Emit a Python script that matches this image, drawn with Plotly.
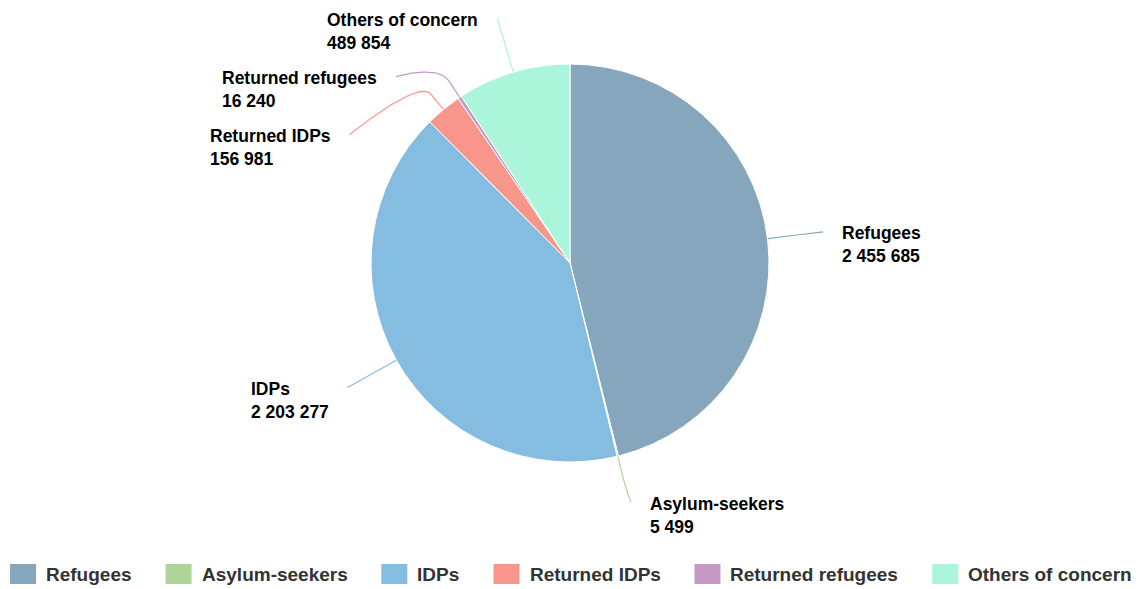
import math
import plotly.graph_objects as go

# ---- data ----
categories = ["Refugees", "Asylum-seekers", "IDPs", "Returned IDPs",
              "Returned refugees", "Others of concern"]
values = [2455685, 5499, 2203277, 156981, 16240, 489854]
colors = ["#85a6bd", "#afd498", "#85bde0", "#f9968c", "#c499c4", "#abf6db"]

# ---- layout parameters (screen pixel coordinates) ----
SCREEN_W, SCREEN_H = 1140, 589
PAGE_MARGIN = 8                     # browser body margin
W, H = SCREEN_W - PAGE_MARGIN, SCREEN_H - PAGE_MARGIN
CX, CY, R = 570, 263, 199
R_BREAK = R + 20      # connector break point radius
R_LABEL = 255         # label anchor radius
LABEL_GAP = 17        # gap between connector end and text
MIN_SPACING = 58      # min vertical spacing of labels on one side
LABEL_DY = 13         # text block centre below connector end
Y_MAX = CY + R + 40   # lowest connector end allowed
FONT = "Liberation Sans, Arial, Helvetica, sans-serif"
LABEL_SIZE = 17.5
LEG_SIZE = 19

def fmt(v):
    return f"{v:,}".replace(",", " ")

def pt(angle_deg, rad):
    a = math.radians(angle_deg)
    return CX + rad * math.sin(a), CY - rad * math.cos(a)

total = sum(values)
mids = []
acc = 0.0
for v in values:
    mids.append((acc + v / 2) / total * 360.0)
    acc += v

# ideal label y positions
info = []
for i, m in enumerate(mids):
    side = "right" if m < 180 else "left"
    _, y = pt(m, R_LABEL)
    info.append({"i": i, "mid": m, "side": side, "y": y})

# resolve overlaps top->bottom on each side
for side in ("left", "right"):
    items = sorted([d for d in info if d["side"] == side], key=lambda d: d["y"])
    prev = None
    for d in items:
        if prev is not None and d["y"] < prev + MIN_SPACING:
            d["y"] = prev + MIN_SPACING
        dy = d["y"] - CY
        d["dx"] = math.sqrt(max(R_LABEL ** 2 - dy ** 2, 0))
        d["y"] = min(d["y"], Y_MAX)
        prev = d["y"]

fig = go.Figure()

fig.add_trace(go.Pie(
    labels=categories, values=values, sort=False, direction="clockwise",
    rotation=0, textinfo="none", showlegend=False,
    marker=dict(colors=colors, line=dict(color="#ffffff", width=1)),
    domain=dict(x=[(CX - R - PAGE_MARGIN) / W, (CX + R - PAGE_MARGIN) / W],
                y=[1 - (CY + R - PAGE_MARGIN) / H, 1 - (CY - R - PAGE_MARGIN) / H]),
    hovertemplate="%{label}: %{value}<extra></extra>",
))

annotations = []
for d in info:
    i = d["i"]
    lx = CX + d["dx"] if d["side"] == "right" else CX - d["dx"]
    ly = d["y"]
    bx, by = pt(d["mid"], R_BREAK)
    tx, ty = pt(d["mid"], R)
    c2x, c2y = 2 * bx - tx, 2 * by - ty
    xs, ys = [], []
    n = 30
    for k in range(n + 1):
        t = k / n
        u = 1 - t
        x = u**3 * lx + 3 * u**2 * t * lx + 3 * u * t**2 * c2x + t**3 * bx
        y = u**3 * ly + 3 * u**2 * t * ly + 3 * u * t**2 * c2y + t**3 * by
        xs.append(x)
        ys.append(y)
    xs.append(tx)
    ys.append(ty)
    fig.add_trace(go.Scatter(x=xs, y=ys, mode="lines", showlegend=False,
                             hoverinfo="skip",
                             line=dict(color=colors[i], width=1.2)))
    if d["side"] == "right":
        ax, xanchor = lx + LABEL_GAP, "left"
    else:
        ax, xanchor = lx - LABEL_GAP, "right"
    annotations.append(dict(
        x=ax, y=ly + LABEL_DY, xref="x", yref="y", showarrow=False,
        text=f"{categories[i]}<br>{fmt(values[i])}",
        xanchor=xanchor, yanchor="middle", align="left",
        font=dict(family=FONT, size=LABEL_SIZE, color="#000000", weight="bold"),
    ))

# ---- manual legend (bottom) ----
AW = {" ": 278, "-": 333, "A": 722, "D": 722, "I": 278, "O": 778, "P": 667,
      "R": 722, "c": 556, "d": 611, "e": 556, "f": 333, "g": 611, "h": 611,
      "k": 556, "l": 278, "m": 889, "n": 611, "o": 611, "r": 389, "s": 556,
      "t": 333, "u": 611, "y": 556}

def text_w(s, size):
    return sum(AW.get(ch, 556) for ch in s) / 1000 * size

SYM_W, SYM_H, SYM_GAP, ITEM_GAP = 26, 20, 8, 36
LEG_Y = 574
widths = [text_w(c, LEG_SIZE) for c in categories]
total_w = sum(widths) + len(categories) * (SYM_W + SYM_GAP) + (len(categories) - 1) * ITEM_GAP
x0 = (SCREEN_W - total_w) / 2
shapes = []
for i, c in enumerate(categories):
    shapes.append(dict(type="rect", xref="x", yref="y",
                       x0=x0, x1=x0 + SYM_W, y0=LEG_Y - SYM_H / 2, y1=LEG_Y + SYM_H / 2,
                       fillcolor=colors[i], line=dict(width=0)))
    annotations.append(dict(
        x=x0 + SYM_W + SYM_GAP, y=LEG_Y, xref="x", yref="y", showarrow=False,
        text=c, xanchor="left", yanchor="middle",
        font=dict(family=FONT, size=LEG_SIZE, color="#333333", weight="bold"),
    ))
    x0 += SYM_W + SYM_GAP + widths[i] + ITEM_GAP

fig.update_layout(
    width=W, height=H, margin=dict(l=0, r=0, t=0, b=0),
    paper_bgcolor="#ffffff", plot_bgcolor="rgba(0,0,0,0)",
    xaxis=dict(range=[PAGE_MARGIN, SCREEN_W], visible=False, fixedrange=True, domain=[0, 1]),
    yaxis=dict(range=[SCREEN_H, PAGE_MARGIN], visible=False, fixedrange=True, domain=[0, 1]),
    annotations=annotations, shapes=shapes,
    font=dict(family=FONT),
    showlegend=False,
)

fig.write_html("out.html")
